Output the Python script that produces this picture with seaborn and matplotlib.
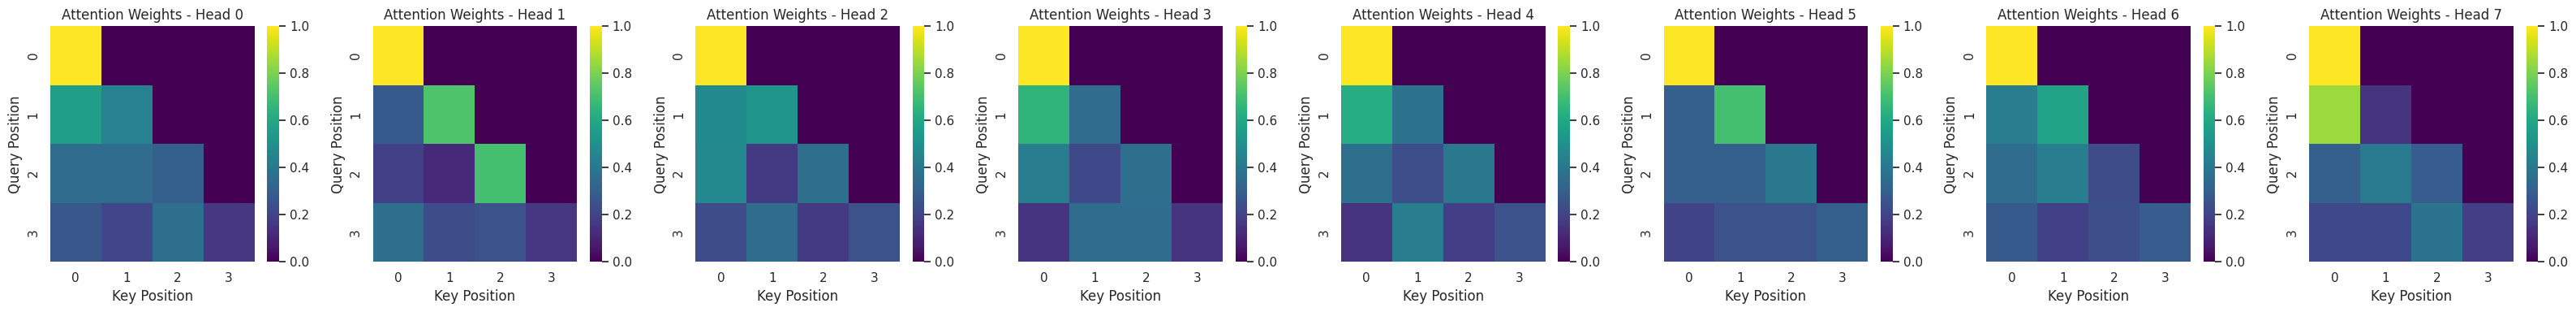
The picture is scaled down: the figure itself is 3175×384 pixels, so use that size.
import matplotlib
matplotlib.use('Agg')
import matplotlib.pyplot as plt
import numpy as np
import seaborn as sns

sns.set_theme()

positions = [0, 1, 2, 3]

# causal attention weights, rows = query, cols = key
head_0 = [[1.00, 0.00, 0.00, 0.00],
          [0.56, 0.44, 0.00, 0.00],
          [0.35, 0.35, 0.30, 0.00],
          [0.27, 0.21, 0.36, 0.16]]
head_1 = [[1.00, 0.00, 0.00, 0.00],
          [0.28, 0.72, 0.00, 0.00],
          [0.19, 0.11, 0.70, 0.00],
          [0.36, 0.23, 0.25, 0.16]]
head_2 = [[1.00, 0.00, 0.00, 0.00],
          [0.48, 0.52, 0.00, 0.00],
          [0.47, 0.17, 0.36, 0.00],
          [0.23, 0.35, 0.17, 0.25]]
head_3 = [[1.00, 0.00, 0.00, 0.00],
          [0.65, 0.35, 0.00, 0.00],
          [0.42, 0.22, 0.36, 0.00],
          [0.15, 0.35, 0.35, 0.15]]
head_4 = [[1.00, 0.00, 0.00, 0.00],
          [0.62, 0.38, 0.00, 0.00],
          [0.36, 0.24, 0.40, 0.00],
          [0.15, 0.42, 0.18, 0.25]]
head_5 = [[1.00, 0.00, 0.00, 0.00],
          [0.30, 0.70, 0.00, 0.00],
          [0.30, 0.30, 0.40, 0.00],
          [0.20, 0.25, 0.25, 0.30]]
head_6 = [[1.00, 0.00, 0.00, 0.00],
          [0.42, 0.58, 0.00, 0.00],
          [0.35, 0.42, 0.23, 0.00],
          [0.28, 0.19, 0.24, 0.29]]
head_7 = [[1.00, 0.00, 0.00, 0.00],
          [0.85, 0.15, 0.00, 0.00],
          [0.30, 0.41, 0.29, 0.00],
          [0.22, 0.22, 0.38, 0.18]]

heads = [head_0, head_1, head_2, head_3, head_4, head_5, head_6, head_7]

fig, axes = plt.subplots(1, 8, figsize=(32, 4))
for i, (ax, w) in enumerate(zip(axes, heads)):
    sns.heatmap(np.array(w), ax=ax, cmap='viridis', vmin=0, vmax=1,
                xticklabels=positions, yticklabels=positions)
    ax.set_title(f'Attention Weights - Head {i}')
    ax.set_xlabel('Key Position')
    ax.set_ylabel('Query Position')

plt.tight_layout()
plt.savefig('out.png', dpi=100, bbox_inches='tight')
